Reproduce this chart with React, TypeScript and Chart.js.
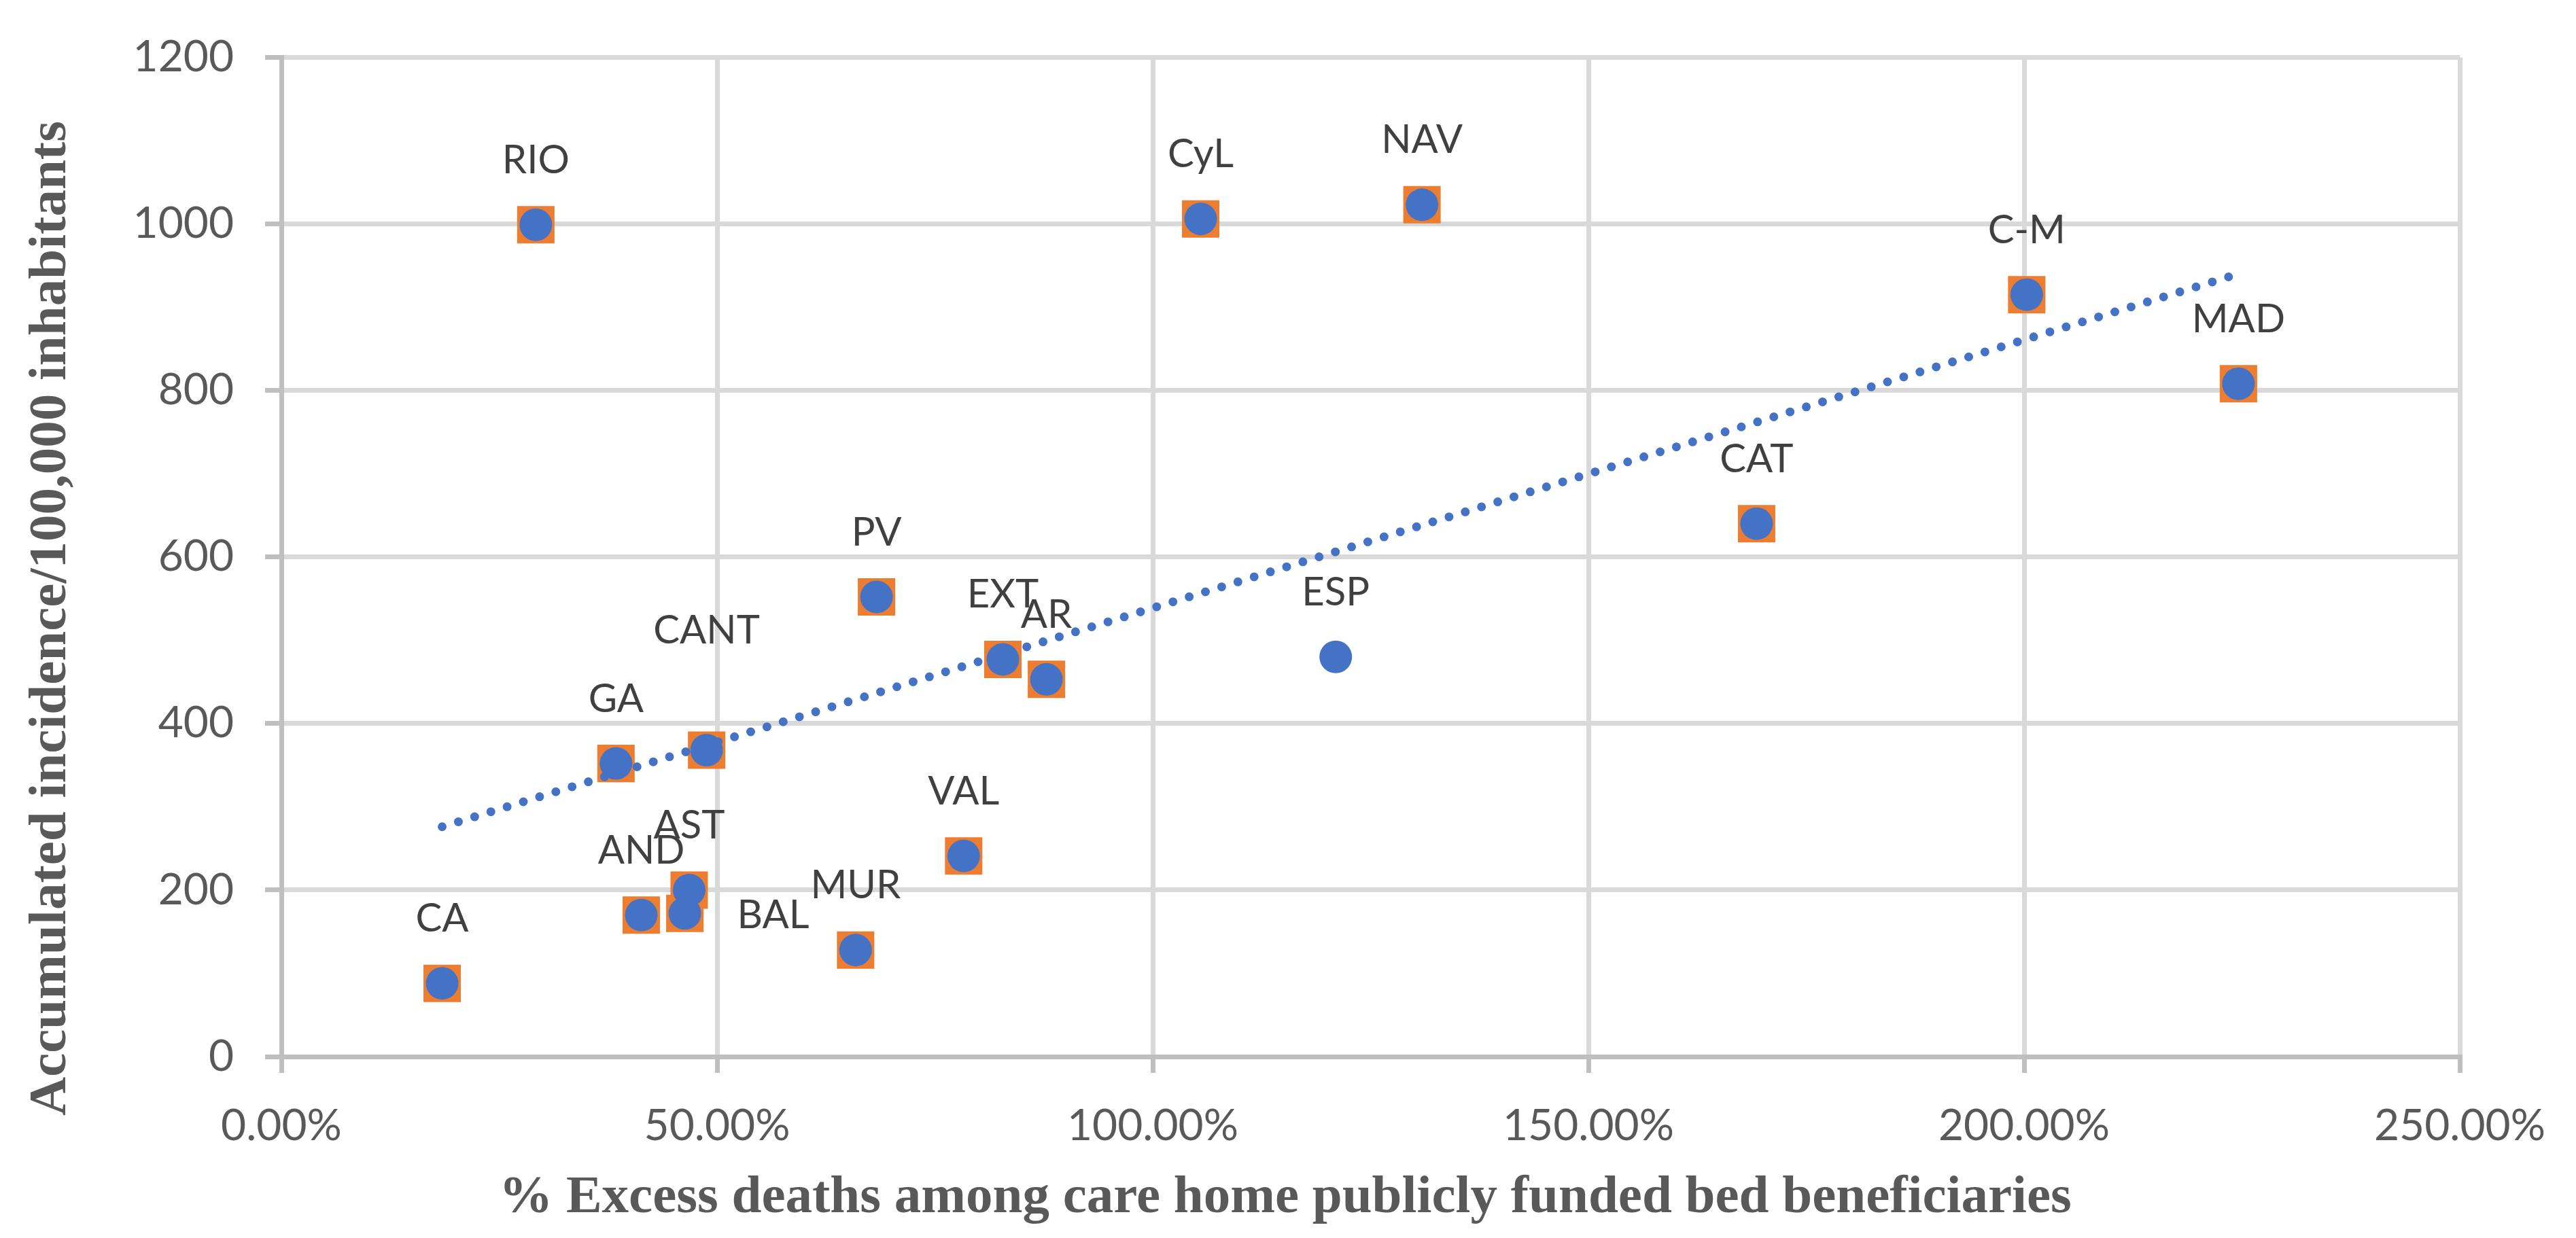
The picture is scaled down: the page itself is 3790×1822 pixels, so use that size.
import React, { useEffect, useRef } from 'react';
import { Chart, registerables } from 'chart.js';

Chart.register(...registerables);

// ---- data ----
const REGIONS = ['CA', 'RIO', 'GA', 'AND', 'AST', 'BAL', 'CANT', 'MUR', 'PV', 'VAL', 'EXT', 'AR', 'CyL', 'ESP', 'NAV', 'CAT', 'C-M', 'MAD'];
const EXCESS_DEATHS_PCT = [18.45, 29.2, 38.4, 41.3, 46.8, 46.3, 48.8, 65.9, 68.3, 78.3, 82.8, 87.8, 105.5, 121.0, 130.9, 169.3, 200.3, 224.6];
const INCIDENCE = [88, 999, 352, 170, 200, 172, 368, 128, 552, 241, 477, 453, 1006, 480, 1023, 640, 915, 808];
// regions drawn with the orange square behind the circle (all but the national value)
const SQUARE_REGIONS = ['CA', 'RIO', 'GA', 'AND', 'AST', 'BAL', 'CANT', 'MUR', 'PV', 'VAL', 'EXT', 'AR', 'CyL', 'NAV', 'CAT', 'C-M', 'MAD'];
// dotted linear trendline end points
const TREND_X = [18.45, 224.6];
const TREND_Y = [276, 940];
// axes
const X_MIN = 0;
const X_MAX = 250;
const X_STEP = 50;
const Y_MIN = 0;
const Y_MAX = 1200;
const Y_STEP = 200;

const X_TITLE = '% Excess deaths among care home publicly funded bed beneficiaries';
const Y_TITLE = 'Accumulated incidence/100,000 inhabitants';

// label placement (style only)
const LABEL_PLACE: Record<string, string> = { CANT: 'high', BAL: 'right' };

const W = 3790;
const H = 1822;

const pointLabelsPlugin = {
  id: 'pointLabels',
  afterDatasetsDraw(chart: any) {
    const meta = chart.getDatasetMeta(1);
    const ctx = chart.ctx;
    ctx.save();
    ctx.font = '58px Lato';
    ctx.fillStyle = '#404040';
    ctx.textBaseline = 'alphabetic';
    meta.data.forEach((pt: any, i: number) => {
      const name = REGIONS[i];
      const place = LABEL_PLACE[name] || 'above';
      if (place === 'right') {
        ctx.textAlign = 'left';
        ctx.fillText(name, pt.x + 77, pt.y + 22);
      } else {
        ctx.textAlign = 'center';
        ctx.fillText(name, pt.x, pt.y - (place === 'high' ? 157 : 76));
      }
    });
    ctx.restore();
  },
};

const axisTitlesPlugin = {
  id: 'axisTitles',
  afterDraw(chart: any) {
    const ctx = chart.ctx;
    ctx.save();
    ctx.font = 'bold 79px "Liberation Serif"';
    ctx.fillStyle = '#595959';
    ctx.textBaseline = 'alphabetic';
    ctx.textAlign = 'center';
    ctx.fillText(X_TITLE, 1891, 1784);
    ctx.translate(96, 910);
    ctx.rotate(-Math.PI / 2);
    ctx.fillText(Y_TITLE, 0, 0);
    ctx.restore();
  },
};

export default function App() {
  const ref = useRef<HTMLCanvasElement | null>(null);

  useEffect(() => {
    if (!ref.current) return;
    const blue = REGIONS.map((_, i) => ({ x: EXCESS_DEATHS_PCT[i], y: INCIDENCE[i] }));
    const orange = REGIONS.map((r, i) => (SQUARE_REGIONS.includes(r) ? { x: EXCESS_DEATHS_PCT[i], y: INCIDENCE[i] } : null)).filter(Boolean);
    const trend = TREND_X.map((x, i) => ({ x, y: TREND_Y[i] }));

    const tickFont = { family: 'Lato', size: 64 };

    const chart = new Chart(ref.current, {
      type: 'scatter',
      data: {
        datasets: [
          {
            type: 'line',
            label: 'trend',
            data: trend,
            borderColor: '#4472C4',
            borderWidth: 13,
            borderDash: [0, 25],
            borderCapStyle: 'round',
            pointRadius: 0,
            fill: false,
            showLine: true,
            order: 0,
          } as any,
          {
            label: 'all',
            data: blue,
            backgroundColor: '#4472C4',
            borderWidth: 0,
            pointRadius: 24,
            pointHoverRadius: 24,
            order: 1,
          },
          {
            label: 'regions',
            data: orange as any,
            pointStyle: 'rect',
            backgroundColor: '#ED7D31',
            borderWidth: 0,
            pointRadius: 38.9,
            pointHoverRadius: 38.9,
            order: 2,
          },
        ],
      },
      options: {
        animation: false,
        responsive: true,
        maintainAspectRatio: false,
        layout: { padding: { left: 0, top: 77, right: 171, bottom: 0 } },
        plugins: { legend: { display: false }, tooltip: { enabled: false } },
        scales: {
          x: {
            type: 'linear',
            min: X_MIN,
            max: X_MAX,
            afterFit: (s: any) => {
              s.height = 267;
            },
            ticks: {
              stepSize: X_STEP,
              padding: 40,
              color: '#595959',
              font: tickFont,
              maxRotation: 0,
              callback: (v: any) => Number(v).toFixed(2) + '%',
            },
            grid: { color: '#d9d9d9', lineWidth: 7, tickColor: '#bfbfbf', tickLength: 24 },
            border: { color: '#bfbfbf', width: 7 },
          },
          y: {
            type: 'linear',
            min: Y_MIN,
            max: Y_MAX,
            afterFit: (s: any) => {
              s.width = 414;
            },
            ticks: {
              stepSize: Y_STEP,
              padding: 46,
              color: '#595959',
              font: tickFont,
              callback: (v: any) => String(v),
            },
            grid: { color: '#d9d9d9', lineWidth: 7, tickColor: '#bfbfbf', tickLength: 24 },
            border: { color: '#bfbfbf', width: 7 },
          },
        },
      },
      plugins: [pointLabelsPlugin, axisTitlesPlugin],
    } as any);

    if ((document as any).fonts && (document as any).fonts.ready) {
      (document as any).fonts.ready.then(() => chart.update());
    }

    return () => chart.destroy();
  }, []);

  return (
    <div style={{ position: 'fixed', left: 0, top: 0, width: W, height: H, background: '#fff' }}>
      <canvas ref={ref} />
    </div>
  );
}
